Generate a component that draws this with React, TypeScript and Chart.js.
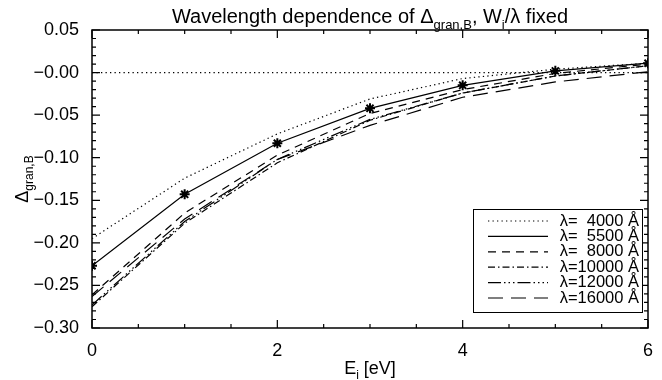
import React, { useEffect, useRef } from 'react';
import { Chart, registerables } from 'chart.js';

Chart.register(...registerables);

// ---- data ----
const energies = [0, 1, 2, 3, 4, 5, 6];
const delta4000 = [-0.195, -0.124, -0.072, -0.031, -0.007, 0.004, 0.011];
const delta5500 = [-0.227, -0.143, -0.083, -0.042, -0.015, 0.002, 0.011];
const delta8000 = [-0.261, -0.165, -0.097, -0.048, -0.020, -0.001, 0.010];
const delta10000 = [-0.275, -0.177, -0.106, -0.056, -0.024, -0.004, 0.008];
const delta12000 = [-0.273, -0.175, -0.102, -0.055, -0.024, -0.004, 0.008];
const delta16000 = [-0.263, -0.172, -0.102, -0.062, -0.029, -0.011, 0.001];
const wavelengths = ['4000', '5500', '8000', '10000', '12000', '16000'];
const zeroLineX = [0, 6];
const zeroLineY = [0, 0];

const FONT = "'Liberation Sans', Arial, Helvetica, sans-serif";

type Part = { t: string; sub?: boolean };

function drawRich(ctx: CanvasRenderingContext2D, parts: Part[], x: number, y: number, size: number) {
  const subSize = Math.round(size * 0.64);
  const widths = parts.map((p) => {
    ctx.font = `${p.sub ? subSize : size}px ${FONT}`;
    return ctx.measureText(p.t).width;
  });
  const total = widths.reduce((a, b) => a + b, 0);
  let cx = x - total / 2;
  ctx.textAlign = 'left';
  ctx.textBaseline = 'alphabetic';
  parts.forEach((p, i) => {
    ctx.font = `${p.sub ? subSize : size}px ${FONT}`;
    ctx.fillText(p.t, cx, y + (p.sub ? size * 0.3 : 0));
    cx += widths[i];
  });
}

const decorPlugin = {
  id: 'decor',
  afterDraw(chart: any) {
    const ctx: CanvasRenderingContext2D = chart.ctx;
    const { left, right, top, bottom } = chart.chartArea;
    const xs = chart.scales.x;
    const ys = chart.scales.y;
    ctx.save();
    ctx.strokeStyle = '#000';
    ctx.fillStyle = '#000';
    ctx.setLineDash([]);
    // frame
    ctx.lineWidth = 1.5;
    ctx.strokeRect(left, top, right - left, bottom - top);
    // x ticks
    ctx.lineWidth = 1.2;
    for (let k = 0; k <= 12; k++) {
      const v = k * 0.5;
      const px = xs.getPixelForValue(v);
      const len = k % 4 === 0 ? 8 : 4;
      ctx.beginPath();
      ctx.moveTo(px, bottom);
      ctx.lineTo(px, bottom - len);
      ctx.moveTo(px, top);
      ctx.lineTo(px, top + len);
      ctx.stroke();
    }
    // y ticks
    for (let k = 0; k <= 35; k++) {
      const v = -0.3 + k * 0.01;
      const py = ys.getPixelForValue(v);
      const len = k % 5 === 0 ? 8 : 4;
      ctx.beginPath();
      ctx.moveTo(left, py);
      ctx.lineTo(left + len, py);
      ctx.moveTo(right, py);
      ctx.lineTo(right - len, py);
      ctx.stroke();
    }
    // title
    const cxm = (left + right) / 2;
    drawRich(ctx, [
      { t: 'Wavelength dependence of Δ' },
      { t: 'gran,B', sub: true },
      { t: ', W' },
      { t: 'i', sub: true },
      { t: '/λ fixed' },
    ], cxm, 22.5, 20);
    // x title
    drawRich(ctx, [{ t: 'E' }, { t: 'i', sub: true }, { t: ' [eV]' }], cxm, 374, 18);
    // y title
    ctx.save();
    ctx.translate(28, (top + bottom) / 2);
    ctx.rotate(-Math.PI / 2);
    drawRich(ctx, [{ t: 'Δ' }, { t: 'gran,B', sub: true }], 0, 0, 18);
    ctx.restore();
    // legend
    const bx = 473.5, by = 209.5, bw = 169, bh = 103;
    ctx.fillStyle = '#fff';
    ctx.fillRect(bx, by, bw, bh);
    ctx.lineWidth = 1;
    ctx.strokeRect(bx, by, bw, bh);
    ctx.fillStyle = '#000';
    ctx.font = `16.5px ${FONT}`;
    ctx.textBaseline = 'middle';
    const fullW = ctx.measureText('λ=10000 Å').width;
    const textLeft = 639 - fullW;
    const dsets = chart.data.datasets.filter((d: any) => d.label);
    dsets.forEach((d: any, i: number) => {
      const ry = 221 + i * 15.4;
      ctx.lineWidth = d.borderWidth;
      ctx.setLineDash(d.borderDash || []);
      ctx.beginPath();
      ctx.moveTo(488, ry);
      ctx.lineTo(548, ry);
      ctx.stroke();
      ctx.setLineDash([]);
      ctx.textAlign = 'left';
      ctx.fillText('λ=', textLeft, ry);
      ctx.textAlign = 'right';
      ctx.fillText(wavelengths[i] + ' Å', 639, ry);
    });
    ctx.restore();
  },
};

function pts(arr: number[]) {
  return energies.map((e, i) => ({ x: e, y: arr[i] }));
}

export default function App() {
  const ref = useRef<HTMLCanvasElement | null>(null);
  useEffect(() => {
    if (!ref.current) return;
    Chart.defaults.font.family = FONT;
    const base = {
      borderColor: '#000',
      backgroundColor: '#000',
      borderWidth: 1.2,
      pointRadius: 0,
      fill: false,
      tension: 0,
      borderCapStyle: 'butt' as const,
    };
    const chart = new Chart(ref.current, {
      type: 'line',
      data: {
        datasets: [
          { ...base, data: zeroLineX.map((x, i) => ({ x, y: zeroLineY[i] })), borderDash: [1.3, 3.2] },
          { ...base, label: '4000', data: pts(delta4000), borderDash: [1.3, 3.2] },
          {
            ...base, label: '5500', data: pts(delta5500), borderDash: [],
            pointStyle: 'star', pointRadius: 5, pointBorderWidth: 2, pointBorderColor: '#000',
          },
          { ...base, label: '8000', data: pts(delta8000), borderDash: [8, 6] },
          { ...base, label: '10000', data: pts(delta10000), borderDash: [7, 3, 1.5, 3] },
          { ...base, label: '12000', data: pts(delta12000), borderDash: [13, 3, 1.5, 3, 1.5, 3, 1.5, 3] },
          { ...base, label: '16000', data: pts(delta16000), borderDash: [15, 8] },
        ] as any,
      },
      options: {
        responsive: false,
        animation: false,
        events: [],
        layout: { padding: { top: 30, right: 14, left: 0, bottom: 0 } },
        plugins: { legend: { display: false }, title: { display: false }, tooltip: { enabled: false } },
        scales: {
          x: {
            type: 'linear', min: 0, max: 6,
            grid: { display: false }, border: { display: false },
            ticks: { stepSize: 2, color: '#000', font: { size: 18 }, padding: 4, maxRotation: 0, autoSkip: false },
            afterFit: (s: any) => { s.height = 52; },
          },
          y: {
            type: 'linear', min: -0.3, max: 0.05,
            grid: { display: false }, border: { display: false },
            ticks: {
              stepSize: 0.05, color: '#000', font: { size: 18 }, padding: 5, autoSkip: false,
              callback: (v: any) => {
                const n = Number(v);
                const s = Math.abs(n).toFixed(2);
                return (n < 0 || Math.abs(n) < 1e-9 ? '−' : '') + s;
              },
            },
            afterFit: (s: any) => { s.width = 92; },
          },
        },
      } as any,
      plugins: [decorPlugin],
    });
    return () => chart.destroy();
  }, []);
  return (
    <div style={{ position: 'absolute', left: 0, top: 0, width: 662, height: 380, background: '#fff' }}>
      <canvas ref={ref} width={662} height={380} style={{ width: 662, height: 380, display: 'block' }} />
    </div>
  );
}
